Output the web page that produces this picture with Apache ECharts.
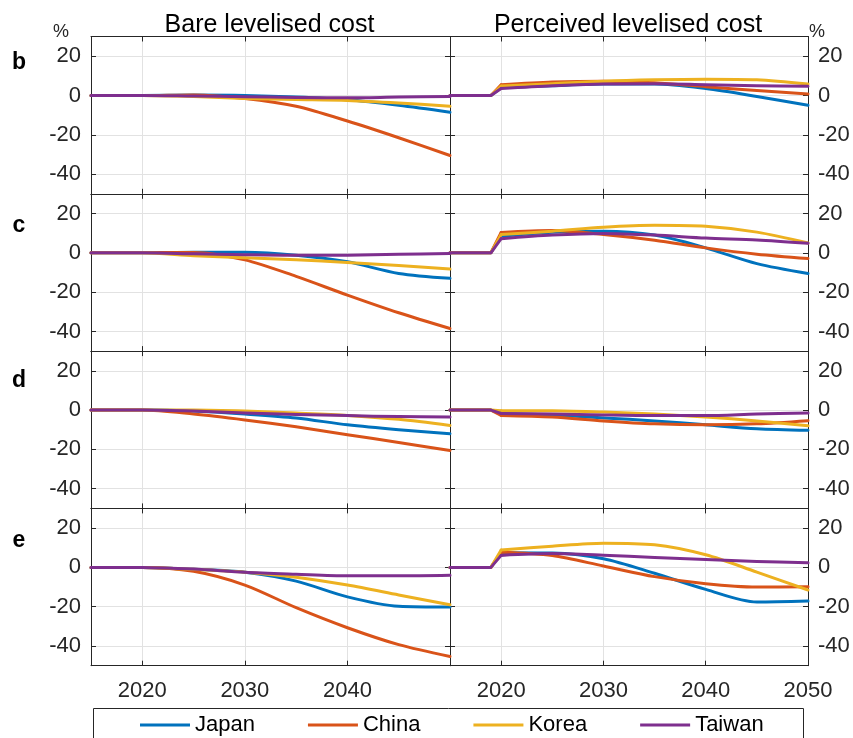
<!DOCTYPE html>
<html><head><meta charset="utf-8">
<script src="https://cdn.jsdelivr.net/npm/echarts@6/dist/echarts.min.js"></script>
<style>html,body{margin:0;padding:0;background:#fff}#c{width:853px;height:738px}</style>
</head><body><div id="c"></div>
<script>
// ---------- data ----------
const countries = ['Japan', 'China', 'Korea', 'Taiwan'];
const rowLabels = ['b', 'c', 'd', 'e'];
const columnTitles = ['Bare levelised cost', 'Perceived levelised cost'];
const yearsBare = [2015, 2020, 2025, 2030, 2035, 2040, 2045, 2050];
const yearsPerceived = [2015, 2019, 2020, 2025, 2030, 2035, 2040, 2045, 2050];
const yTickValues = [-40, -20, 0, 20];
const xTickLabelsBare = [2020, 2030, 2040];
const xTickLabelsPerceived = [2020, 2030, 2040, 2050];

// Bare levelised cost (% change), years = yearsBare
const bare_b = {
  Japan:  [0, 0, 0.2, 0, -0.8, -2.2, -5, -8.5],
  China:  [0, 0, 0.3, -1.5, -5.5, -13, -21.5, -30.5],
  Korea:  [0, 0, -0.5, -1.5, -2, -2.5, -3.8, -5.5],
  Taiwan: [0, 0, -0.3, -0.6, -1, -1.2, -0.8, -0.5]
};
const bare_c = {
  Japan:  [0, 0, 0.3, 0.3, -1.2, -4.6, -10.5, -13],
  China:  [0, 0, 0.2, -3.6, -12, -21.5, -30.5, -38.5],
  Korea:  [0, 0, -1.5, -2.5, -3.5, -5, -6.5, -8.3],
  Taiwan: [0, 0, -0.5, -1, -1.3, -1.2, -0.8, -0.3]
};
const bare_d = {
  Japan:  [0, 0, -0.5, -2, -4, -7.5, -10, -12],
  China:  [0, 0, -2, -5, -8.5, -12.5, -16.5, -20.5],
  Korea:  [0, 0, 0, -0.5, -1.5, -2.7, -4.7, -7.8],
  Taiwan: [0, 0, -0.5, -1.5, -2.2, -2.8, -3.3, -3.5]
};
const bare_e = {
  Japan:  [0, 0, -1, -2.5, -7, -15, -19.8, -20.2],
  China:  [0, 0, -2, -9, -20.5, -30.7, -39.3, -45.3],
  Korea:  [0, 0, -1, -2.5, -5, -9, -14, -19],
  Taiwan: [0, 0, -0.8, -2.5, -3.5, -4.3, -4.3, -4]
};

// Perceived levelised cost (% change), years = yearsPerceived
const perceived_b = {
  Japan:  [0, 0, 4, 5, 5.8, 5.8, 3.5, -0.5, -5],
  China:  [0, 0, 5.4, 6.8, 7.3, 6.5, 4.5, 2.5, 0.8],
  Korea:  [0, 0, 4.8, 6, 7.3, 8, 8.3, 8, 5.8],
  Taiwan: [0, 0, 3.6, 5, 5.8, 6, 5.5, 5, 4.7]
};
const perceived_c = {
  Japan:  [0, 0, 8.5, 10.5, 11, 9, 2.5, -5.5, -10.5],
  China:  [0, 0, 10.3, 11.3, 9.3, 6.4, 2.5, -0.7, -2.9],
  Korea:  [0, 0, 9.3, 11, 13, 14, 13.5, 10.5, 5],
  Taiwan: [0, 0, 7.2, 9, 9.8, 9, 7.5, 6.5, 4.8]
};
const perceived_d = {
  Japan:  [0, 0, -1.7, -2.5, -4, -5.5, -7.5, -9.5, -10.3],
  China:  [0, 0, -2.7, -3.5, -5.5, -7, -7.5, -7, -5.4],
  Korea:  [0, 0, -0.3, -0.3, -1, -2, -3.5, -5.5, -8],
  Taiwan: [0, 0, -1.7, -2, -2.5, -2.8, -2.8, -2, -1.5]
};
const perceived_e = {
  Japan:  [0, 0, 7.5, 7.3, 4.4, -3, -11.2, -17.6, -17.1],
  China:  [0, 0, 7.7, 6, 0.7, -4.7, -8.3, -10, -9.8],
  Korea:  [0, 0, 8.8, 10.8, 12.3, 11.5, 6.4, -2.4, -11.5],
  Taiwan: [0, 0, 6.1, 7, 6.2, 5, 4, 3, 2.3]
};

// ---------- styling / layout ----------
const colors = ['#0072BD', '#D95319', '#EDB120', '#7E2F8E'];
const bareRows = [bare_b, bare_c, bare_d, bare_e];
const perceivedRows = [perceived_b, perceived_c, perceived_d, perceived_e];
const FONT = '"Liberation Sans", Arial, Helvetica, sans-serif';
const AX = '#262626';
const GRIDC = '#e2e2e2';
const colLeft = [91, 450], colWidth = [359, 358];
const top0 = 36.5, rowH = 157.3;

const grids = [], xAxes = [], yAxes = [], series = [];

for (let r = 0; r < 4; r++) {
  for (let c = 0; c < 2; c++) {
    const gi = grids.length;
    grids.push({ left: colLeft[c], top: top0 + r * rowH, width: colWidth[c], height: rowH, show: false, containLabel: false });
    const lineStyle = { color: AX, width: 1 };
    xAxes.push({
      gridIndex: gi, type: 'value', min: 2015, max: 2050, position: 'bottom',
      axisLine: { show: true, onZero: false, lineStyle },
      axisTick: { show: true, inside: true, length: 5, customValues: xTickLabelsPerceived, lineStyle },
      axisLabel: { show: r === 3, customValues: c === 0 ? xTickLabelsBare : xTickLabelsPerceived,
        formatter: v => String(v), fontSize: 22, color: AX, fontFamily: FONT, margin: 14 },
      splitLine: { show: true, lineStyle: { color: GRIDC, width: 1 } }
    });
    xAxes.push({
      gridIndex: gi, type: 'value', min: 2015, max: 2050, position: 'top',
      axisLine: { show: true, onZero: false, lineStyle },
      axisTick: { show: true, inside: true, length: 5, customValues: xTickLabelsPerceived, lineStyle },
      axisLabel: { show: false },
      splitLine: { show: false }
    });
    yAxes.push({
      gridIndex: gi, type: 'value', min: -50, max: 30, position: 'left',
      axisLine: { show: true, onZero: false, lineStyle },
      axisTick: { show: true, inside: true, length: 5, customValues: yTickValues, lineStyle },
      axisLabel: { show: c === 0, customValues: yTickValues, fontSize: 22, color: AX, fontFamily: FONT, margin: 10 },
      splitLine: { show: true, lineStyle: { color: GRIDC, width: 1 } }
    });
    yAxes.push({
      gridIndex: gi, type: 'value', min: -50, max: 30, position: 'right',
      axisLine: { show: true, onZero: false, lineStyle },
      axisTick: { show: true, inside: true, length: 5, customValues: yTickValues, lineStyle },
      axisLabel: { show: c === 1, customValues: yTickValues, fontSize: 22, color: AX, fontFamily: FONT, margin: 10 },
      splitLine: { show: false }
    });

    countries.forEach((name, k) => {
      const base = {
        type: 'line', name, xAxisIndex: 2 * gi, yAxisIndex: 2 * gi,
        symbol: 'none', showSymbol: false, clip: true,
        lineStyle: { color: colors[k], width: 3, cap: 'round', join: 'round' },
        itemStyle: { color: colors[k] }, z: 3 + k, silent: true
      };
      if (c === 0) {
        const vals = bareRows[r][name];
        series.push(Object.assign({}, base, { smooth: 0.3, data: yearsBare.map((y, i) => [y, vals[i]]) }));
      } else {
        const vals = perceivedRows[r][name];
        const pts = yearsPerceived.map((y, i) => [y, vals[i]]);
        series.push(Object.assign({}, base, { smooth: false, data: pts.slice(0, 3) }));
        series.push(Object.assign({}, base, { smooth: 0.3, data: pts.slice(2) }));
      }
    });
  }
}

const graphics = [];
columnTitles.forEach((t, c) => {
  graphics.push({ type: 'text', x: colLeft[c] + colWidth[c] / 2 - 1, y: 25,
    style: { text: t, font: '25px ' + FONT, fill: '#000', align: 'center', verticalAlign: 'middle', textAlign: 'center', textVerticalAlign: 'middle' } });
});
graphics.push({ type: 'text', x: 61, y: 32, style: { text: '%', font: '18px ' + FONT, fill: AX, align: 'center', verticalAlign: 'middle', textAlign: 'center', textVerticalAlign: 'middle' } });
graphics.push({ type: 'text', x: 817, y: 32, style: { text: '%', font: '18px ' + FONT, fill: AX, align: 'center', verticalAlign: 'middle', textAlign: 'center', textVerticalAlign: 'middle' } });
const letterY = [63, 226, 381, 541];
rowLabels.forEach((l, r) => {
  graphics.push({ type: 'text', x: 19, y: letterY[r], style: { text: l, font: 'bold 23px ' + FONT, fill: '#000', align: 'center', verticalAlign: 'middle', textAlign: 'center', textVerticalAlign: 'middle' } });
});
graphics.push({ type: 'rect', shape: { x: 93.5, y: 708.5, width: 710, height: 40 }, style: { fill: 'none', stroke: AX, lineWidth: 1 }, z: 10 });

const chart = echarts.init(document.getElementById('c'), null, { renderer: 'canvas' });
chart.setOption({
  animation: false,
  backgroundColor: '#fff',
  color: colors,
  grid: grids,
  xAxis: xAxes,
  yAxis: yAxes,
  series,
  legend: {
    data: countries, left: 135, top: 709, icon: 'rect', itemWidth: 50, itemHeight: 3, itemGap: 53,
    textStyle: { fontSize: 22, color: '#000', fontFamily: FONT }, selectedMode: false
  },
  graphic: graphics
});
</script></body></html>
